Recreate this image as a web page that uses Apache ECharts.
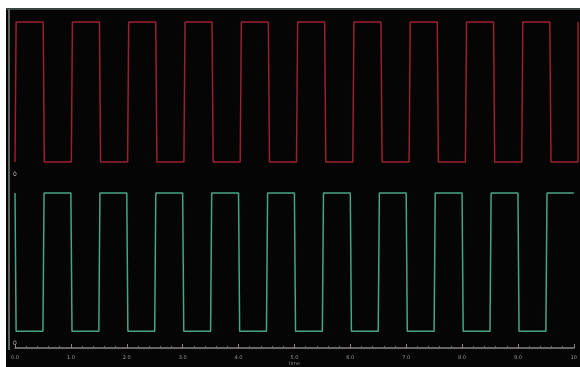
<!DOCTYPE html>
<html><head><meta charset="utf-8">
<script src="https://cdn.jsdelivr.net/npm/echarts@6/dist/echarts.min.js"></script>
<style>html,body{margin:0;padding:0;background:#fff}#c{width:580px;height:367px}</style>
</head><body><div id="c"></div>
<script>
// Data
const xTickLabels = ['0.0','1.0','2.0','3.0','4.0','5.0','6.0','7.0','8.0','9.0','10'];
const redStartLevel = 0;
const redEdges = [0,0.5,1,1.5,2,2.5,3,3.5,4,4.5,5,5.5,6,6.5,7,7.5,8,8.5,9,9.5,10];
const greenStartLevel = 1;
const greenEdges = [0,0.5,1,1.5,2,2.5,3,3.5,4,4.5,5,5.5,6,6.5,7,7.5,8,8.5,9,9.5];
const riseTime = 0.02;
const tEnd = 10;

function wave(startLevel, edges){
  const pts = [];
  let lv = startLevel;
  pts.push([0, lv]);
  edges.forEach(e => {
    pts.push([e, lv]);
    lv = 1 - lv;
    pts.push([Math.min(e + riseTime, tEnd), lv]);
  });
  pts.push([tEnd, lv]);
  return pts;
}

const chart = echarts.init(document.getElementById('c'));
const axisCol = '#8a8488';
chart.setOption({
  backgroundColor: '#ffffff',
  animation: false,
  graphic: [
    {type:'rect', shape:{x:6,y:8,width:574,height:359}, style:{fill:'#050505'}, z:-10},
    {type:'line', shape:{x1:6,y1:9,x2:580,y2:9}, style:{stroke:'#3a4440',lineWidth:2}, z:-5},
    {type:'line', shape:{x1:9,y1:9,x2:9,y2:350}, style:{stroke:'#5d625f',lineWidth:2}, z:-5},
    {type:'text', left:13, top:171, style:{text:'0', fill:'#bdbdbd', fontSize:6, fontFamily:'DejaVu Sans'}},
    {type:'text', left:13, top:340, style:{text:'0', fill:'#bdbdbd', fontSize:6, fontFamily:'DejaVu Sans'}}
  ],
  grid: [
    {left:15, right:2, top:10, height:165},
    {left:15, right:2, top:182, bottom:18}
  ],
  xAxis: [
    {gridIndex:0, type:'value', min:0, max:10, show:false},
    {gridIndex:1, type:'value', min:0, max:10, interval:1,
     axisLine:{show:true, onZero:false, lineStyle:{color:axisCol, width:1.5}},
     axisTick:{show:true, inside:true, length:4, lineStyle:{color:axisCol}},
     minorTick:{show:true, splitNumber:5, length:2, lineStyle:{color:'#6a6466'}},
     splitLine:{show:false},
     axisLabel:{color:'#9a9a9a', fontSize:5, margin:7, fontFamily:'DejaVu Sans',
       formatter:(v)=>xTickLabels[Math.round(v)]},
     name:'time', nameLocation:'middle', nameGap:13,
     nameTextStyle:{color:'#8a8a8a', fontSize:5, fontFamily:'DejaVu Sans'}}
  ],
  yAxis: [
    {gridIndex:0, type:'value', min:-0.093, max:1.086, show:false},
    {gridIndex:1, type:'value', min:-0.122, max:1.079, show:false}
  ],
  series: [
    {type:'line', xAxisIndex:0, yAxisIndex:0, data:wave(redStartLevel, redEdges),
     symbol:'none', lineStyle:{color:'#9a2030', width:1.5}},
    {type:'line', xAxisIndex:1, yAxisIndex:1, data:wave(greenStartLevel, greenEdges),
     symbol:'none', lineStyle:{color:'#48a488', width:1.5}}
  ]
});
</script></body></html>
